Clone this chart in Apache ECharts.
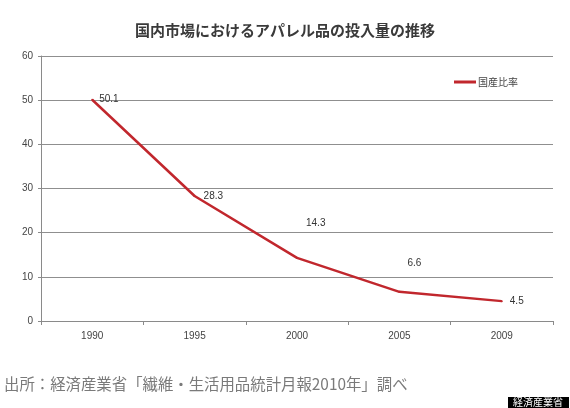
<!DOCTYPE html>
<html>
<head>
<meta charset="utf-8">
<script src="https://cdn.jsdelivr.net/npm/echarts@6/dist/echarts.min.js"></script>
<style>
html,body{margin:0;padding:0;background:#fff;}
#chart{width:570px;height:408px;}
</style>
</head>
<body>
<div id="chart"></div>
<script>
const titleText = '国内市場におけるアパレル品の投入量の推移';
const seriesName = '国産比率';
const categories = ['1990', '1995', '2000', '2005', '2009'];
const values = [50.1, 28.3, 14.3, 6.6, 4.5];
const yTicks = { min: 0, max: 60, interval: 10 };
const sourceText = '出所：経済産業省「繊維・生活用品統計月報2010年」調べ';
const badgeText = '経済産業省';

// label offsets (style only)
const labelOffsets = [[1, 0], [3, 0], [3, -35], [2, -29], [2, 0]];

const lineColor = '#c1272d';
const jpFont = '"Noto Sans CJK JP", sans-serif';
const numFont = '"Liberation Sans", "DejaVu Sans", sans-serif';

const chart = echarts.init(document.getElementById('chart'), null, { renderer: 'canvas' });

const seriesData = values.map((v, i) => ({
  value: v,
  label: { offset: labelOffsets[i] }
}));

chart.setOption({
  animation: false,
  backgroundColor: '#ffffff',
  title: {
    text: titleText,
    left: 'center',
    top: 18,
    textStyle: { fontFamily: jpFont, fontSize: 15, fontWeight: 'bold', color: '#3a3a3a' }
  },
  legend: {
    data: [seriesName],
    left: 449,
    top: 72,
    itemWidth: 22,
    itemHeight: 3,
    itemGap: 2,
    icon: 'rect',
    textStyle: { fontFamily: jpFont, fontSize: 10, color: '#444', padding: [0, 0, 0, -3] }
  },
  grid: { left: 41, right: 17, top: 56, bottom: 87, containLabel: false },
  xAxis: {
    type: 'category',
    data: categories,
    boundaryGap: true,
    axisLine: { show: true, lineStyle: { color: '#8a8a8a', width: 1 } },
    axisTick: { show: true, alignWithLabel: false, length: 4, lineStyle: { color: '#8a8a8a' } },
    axisLabel: { fontFamily: numFont, fontSize: 10, color: '#444', margin: 10 },
    splitLine: { show: false }
  },
  yAxis: {
    type: 'value',
    min: yTicks.min,
    max: yTicks.max,
    interval: yTicks.interval,
    axisLine: { show: true, lineStyle: { color: '#8a8a8a', width: 1 } },
    axisTick: { show: true, length: 3, lineStyle: { color: '#8a8a8a' } },
    axisLabel: { fontFamily: numFont, fontSize: 10, color: '#444', margin: 8 },
    splitLine: { show: true, lineStyle: { color: '#8f8f8f', width: 1 } }
  },
  series: [{
    name: seriesName,
    type: 'line',
    data: seriesData,
    symbol: 'circle',
    symbolSize: 2,
    showSymbol: true,
    itemStyle: { color: lineColor },
    lineStyle: { color: lineColor, width: 2.5 },
    label: {
      show: true,
      position: 'right',
      distance: 5,
      fontFamily: numFont,
      fontSize: 10,
      color: '#333'
    }
  }],
  graphic: [
    {
      type: 'text',
      left: 4,
      top: 376,
      style: { text: sourceText, fontFamily: jpFont, fontSize: 15.4, fill: '#7a7a7a' }
    },
    {
      type: 'rect',
      left: 508,
      top: 397,
      shape: { width: 61, height: 11 },
      style: { fill: '#000' }
    },
    {
      type: 'text',
      left: 513,
      top: 397,
      style: { text: badgeText, fontFamily: jpFont, fontSize: 10, fill: '#fff' }
    }
  ]
});
</script>
</body>
</html>
